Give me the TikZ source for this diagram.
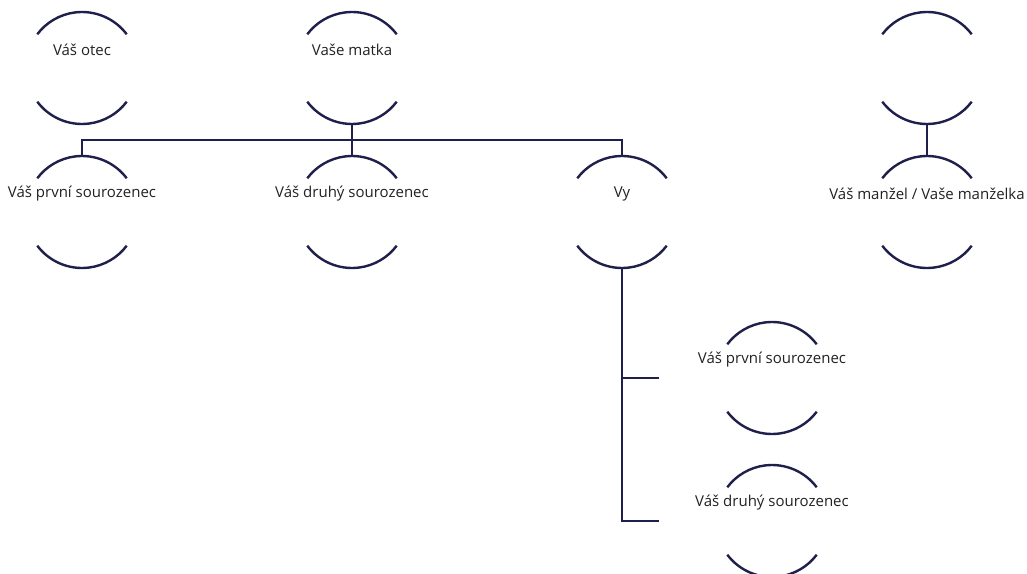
\documentclass[tikz,border=0pt]{standalone}
\usepackage{fontspec}
\setmainfont{Open Sans}
\definecolor{navy}{HTML}{1E1F4B}
\definecolor{txt}{HTML}{222222}
\tikzset{
  person/.style={circle,draw=none,minimum size=112bp,inner sep=0pt,outer sep=0pt},
  ptext/.style={text=txt,font=\fontsize{15bp}{18bp}\selectfont,inner sep=0pt},
  rim/.style={draw=navy,line width=2.4bp},
  link/.style={draw=navy,line width=1.3bp},
}
\newcommand{\rims}[1]{%
  \draw[rim] (#1.37) arc (37:143:56bp);
  \draw[rim] (#1.217) arc (217:323:56bp);
}
\begin{document}
\begin{tikzpicture}[x=1bp,y=1bp]
\useasboundingbox[fill=white] (0,0) rectangle (1027,-574);
\clip (0,0) rectangle (1027,-574);
\node[person,label={[ptext,yshift=18bp]center:Váš otec}] (otec) at (82,-68) {};
\node[person,label={[ptext,yshift=18bp]center:Vaše matka}] (matka) at (352,-68) {};
\node[person] (tchan) at (927,-68) {};
\node[person,label={[ptext,yshift=18bp]center:Váš první sourozenec}] (s1) at (82,-212) {};
\node[person,label={[ptext,yshift=18bp]center:Váš druhý sourozenec}] (s2) at (352,-212) {};
\node[person,label={[ptext,yshift=18bp]center:Vy}] (vy) at (622,-212) {};
\node[person,label={[ptext,yshift=18bp]center:Váš manžel / Vaše manželka}] (sp) at (927,-212) {};
\node[person,label={[ptext,yshift=18bp]center:Váš první sourozenec}] (d1) at (772,-378) {};
\node[person,label={[ptext,yshift=18bp]center:Váš druhý sourozenec}] (d2) at (772,-521) {};
\foreach \n in {otec,matka,tchan,s1,s2,vy,sp,d1,d2} {\rims{\n}}
\coordinate (bus) at (352,-140);
\coordinate (e1) at (659,-378);
\coordinate (e2) at (659,-521);
\draw[link] (matka.south) -- (s2.north);
\draw[link] (s1.north) |- (bus) -| (vy.north);
\draw[link] (tchan.south) -- (sp.north);
\draw[link] (vy.south) |- (e2);
\draw[link] (e1) -| (vy.south);
\end{tikzpicture}
\end{document}
